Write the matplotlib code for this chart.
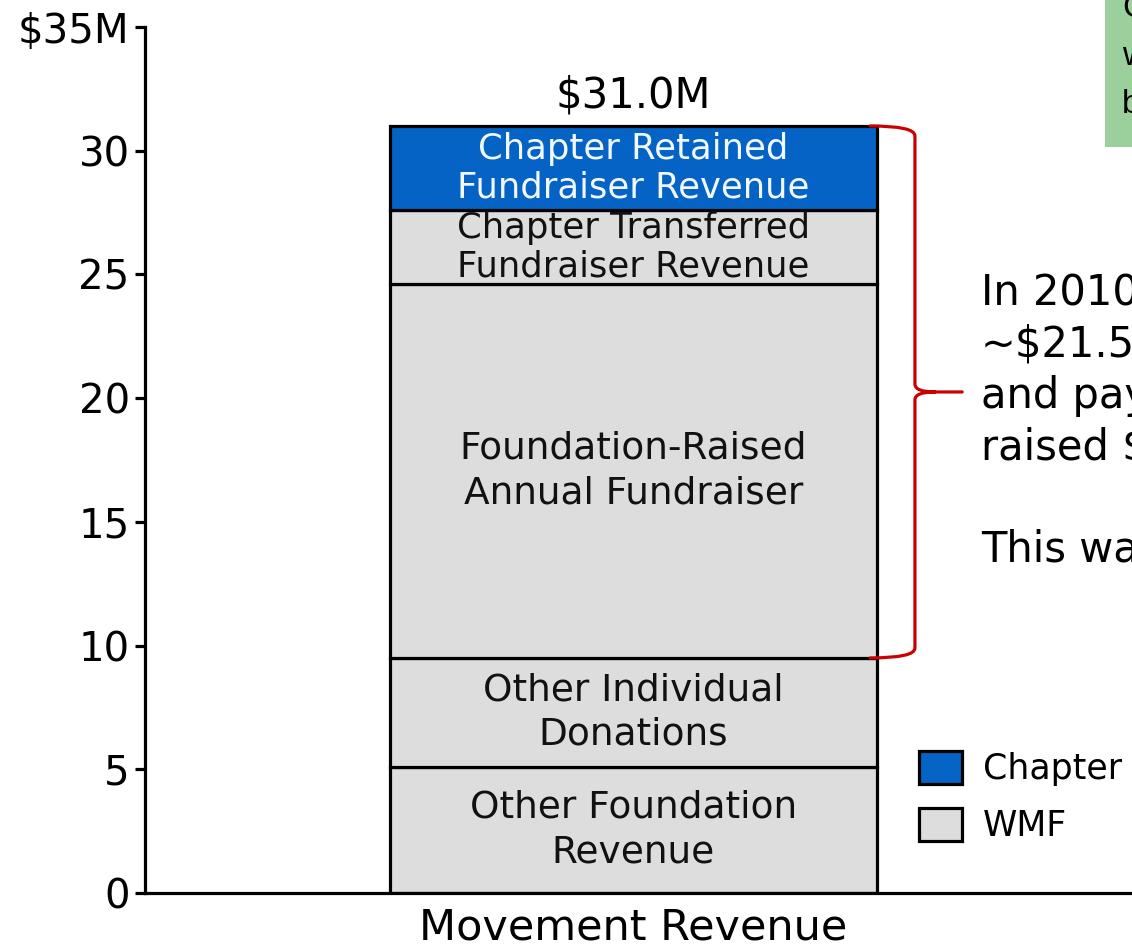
import matplotlib.pyplot as plt
from matplotlib.path import Path
from matplotlib.patches import PathPatch, Patch, Rectangle

# data
category = 'Movement Revenue'
segment_names = ['Other Foundation\nRevenue', 'Other Individual\nDonations',
                 'Foundation-Raised\nAnnual Fundraiser',
                 'Chapter Transferred\nFundraiser Revenue',
                 'Chapter Retained\nFundraiser Revenue']
segment_values = [5.1, 4.4, 15.1, 3.0, 3.4]
segment_owner = ['WMF', 'WMF', 'WMF', 'WMF', 'Chapter']
y_ticks = [0, 5, 10, 15, 20, 25, 30, 35]
y_tick_labels = ['0', '5', '10', '15', '20', '25', '30', '$35M']
total_label = '$31.0M'
note_lines = ['In 2010, chapters', '~$21.5M', 'and pay', 'raised $', '', 'This was']
box_lines = ['C', 'w', 'b']

owner_colors = {'Chapter': '#0563C6', 'WMF': '#DDDDDD'}
label_colors = {'Chapter': '#F2F8FF', 'WMF': '#111111'}

W, H, DPI = 1132, 947, 100
fig = plt.figure(figsize=(W / DPI, H / DPI), dpi=DPI)
plt.rcParams['font.family'] = ['DejaVu Sans']

# axes run past the right edge like the cropped original
ax = fig.add_axes([145 / W, (H - 893) / H, (1400 - 145) / W, (893 - 27) / H])
ax.set_xlim(-1.003, 1.574)
ax.set_ylim(0, 35)

bottoms = []
b = 0
for v in segment_values:
    bottoms.append(b)
    b += v
total = b

for i, (name, v, bot, owner) in enumerate(zip(segment_names, segment_values, bottoms, segment_owner)):
    ax.bar(0, v, bottom=bot, width=1.0, color=owner_colors[owner],
           edgecolor='black', linewidth=2.3, zorder=2)
    # the two thin top segments use a slightly smaller label
    small = i >= 3
    ax.text(0, bot + v / 2, name, ha='center', va='center',
            fontsize=25.5 if small else 27, color=label_colors[owner],
            linespacing=1.15 if small else 1.3, zorder=3)

ax.annotate(total_label, xy=(0, total), xytext=(0, 13.5), textcoords='offset points',
            ha='center', va='baseline', fontsize=30)

# curly brace over the chapter-run fundraiser segments
y0 = bottoms[2]
y1 = total
ym = (y0 + y1) / 2
xa, xv, xt, xp = 0.486, 0.578, 0.619, 0.675
r_end, r_mid = 0.4, 0.32
verts = [(xa, y1), (xv, y1), (xv, y1 - r_end),
         (xv, ym + r_mid), (xv, ym), (xt, ym), (xp, ym),
         (xt, ym), (xv, ym), (xv, ym - r_mid),
         (xv, y0 + r_end), (xv, y0), (xa, y0)]
codes = [Path.MOVETO, Path.CURVE3, Path.CURVE3,
         Path.LINETO, Path.CURVE3, Path.CURVE3, Path.LINETO,
         Path.MOVETO, Path.CURVE3, Path.CURVE3,
         Path.LINETO, Path.CURVE3, Path.CURVE3]
ax.add_patch(PathPatch(Path(verts, codes), fill=False, edgecolor='#CC0000',
                       linewidth=2.3, capstyle='round', joinstyle='round', zorder=4))

ax.spines['top'].set_visible(False)
ax.spines['right'].set_visible(False)
ax.spines['left'].set_linewidth(2.3)
ax.spines['bottom'].set_linewidth(2.3)
ax.set_yticks(y_ticks)
ax.set_yticklabels(y_tick_labels)
ax.tick_params(axis='y', labelsize=29, length=7, width=2.3, pad=4)
ax.set_xticks([0])
ax.set_xticklabels([category])
ax.tick_params(axis='x', labelsize=31, length=0, pad=10)

# note text on the right, cut off by the frame
for i, line in enumerate(note_lines):
    fig.text(981 / W, 1 - (305 + 51.4 * i) / H, line, fontsize=30,
             va='baseline', ha='left')

# green callout box in the top right corner
fig.patches.append(Rectangle((1105 / W, 1 - 147 / H), 0.2, 147 / H,
                             transform=fig.transFigure, facecolor='#9BCF9B',
                             edgecolor='none', zorder=0))
for i, line in enumerate(box_lines):
    fig.text(1122 / W, 1 - (17 + 48 * i) / H, line, fontsize=24,
             family='Liberation Sans', va='baseline', ha='left')

handles = [Patch(facecolor=owner_colors['Chapter'], edgecolor='black', linewidth=2.3),
           Patch(facecolor=owner_colors['WMF'], edgecolor='black', linewidth=2.3)]
fig.legend(handles, ['Chapter', 'WMF'], loc='upper left',
           bbox_to_anchor=(919 / W, 1 - 751 / H), frameon=False,
           prop={'size': 25}, handlelength=1.25, handleheight=1.1,
           handletextpad=0.6, labelspacing=0.62, borderpad=0, borderaxespad=0)

fig.savefig('out.png', dpi=DPI)
